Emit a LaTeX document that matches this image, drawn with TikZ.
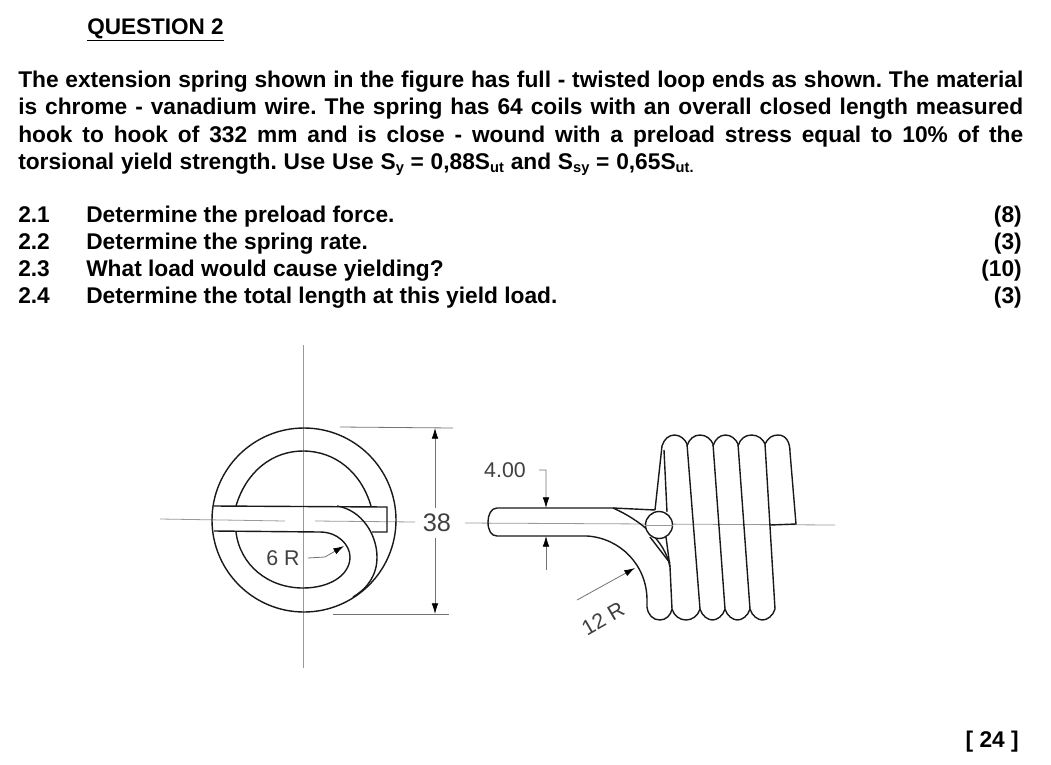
\documentclass[tikz,border=0pt]{standalone}
\usepackage{fontspec}
\setmainfont{Liberation Sans}
\usetikzlibrary{arrows.meta}
\tikzset{
    txt/.style={anchor=base west,inner sep=0pt,font=\fontsize{17.05}{20}\selectfont\bfseries},
    marks/.style={anchor=base east,inner sep=0pt,font=\fontsize{17.05}{20}\selectfont\bfseries},
    dimtxt/.style={inner sep=0pt,text=black!75,font=\fontsize{16}{18}\selectfont},
    wire/.style={draw=black!90,line width=1.05pt},
    centre/.style={draw=black!40,line width=0.6pt},
    dimline/.style={draw=black!55,line width=0.6pt},
    dimarrow/.style={dimline,-{Latex[black,length=8pt,width=5pt]}},
}
\newcommand{\bodyline}[1]{\makebox[753.75pt][s]{#1}}
\newcommand{\lowtxt}[1]{\raisebox{-2.6pt}{\fontsize{11}{10}\selectfont #1}}
\frenchspacing
\begin{document}
\begin{tikzpicture}[x=0.75pt,y=-0.75pt]
    \useasboundingbox (0,0) rectangle (1051,765);
    % text
    \node[txt,font=\fontsize{16.9}{20}\selectfont\bfseries] (title) at (87,34) {\underline{QUESTION 2}};
    \node[txt] (lineA) at (18,87) {\bodyline{The extension spring shown in the figure has full - twisted loop ends as shown. The material}};
    \node[txt] (lineB) at (18,114) {\bodyline{is chrome - vanadium wire. The spring has 64 coils with an overall closed length measured}};
    \node[txt] (lineC) at (18,142) {\bodyline{hook to hook of 332 mm and is close - wound with a preload stress equal to 10\% of the}};
    \node[txt] (lineD) at (18,169) {\makebox[506.5pt][s]{torsional yield strength. Use Use S\lowtxt{y} = 0,88S\lowtxt{ut} and S\lowtxt{sy} = 0,65S\lowtxt{ut.}}};
    \foreach \yy/\num/\what/\pts [count=\i] in {222/2.1/Determine the preload force./(8),
        249/2.2/Determine the spring rate./(3),
        276/2.3/What load would cause yielding?/(10),
        303/2.4/Determine the total length at this yield load./(3)} {
        \node[txt] (num\i) at (18,\yy) {\num};
        \node[txt] (item\i) at (86,\yy) {\what};
        \node[marks] (pts\i) at (1022,\yy) {\pts};
    }
    \node[marks] (total) at (1019,747) {[ 24 ]};

    % end view
    \draw[centre] (303,345) -- (303,668);
    \draw[centre] (160,519) -- (285,521);
    \draw[centre] (315,521) -- (415,522);
    \draw[wire] (304,520) circle[radius=92];
    \draw[wire] (236,506) .. controls (246,472) and (272,451) .. (303,451)
        .. controls (335,451) and (361,472) .. (371,506);
    \draw[wire] (214,506) -- (387,507) -- (387,532) -- (372,532);
    \draw[wire] (214,531) -- (320,532) .. controls (338,532) and (350,545) .. (350,557)
        .. controls (350,575) and (330,588) .. (303,588)
        .. controls (268,588) and (240,565) .. (236,532);
    \draw[wire] (337,506) .. controls (362,510) and (377,535) .. (377,557)
        .. controls (377,575) and (368,588) .. (353,597);

    % 38
    \draw[dimline] (340,427) -- (453,428);
    \draw[dimline] (333,614) -- (449,614);
    \coordinate (dimTop) at (435,428);
    \coordinate (dimBot) at (435,614);
    \node[dimtxt,font=\fontsize{19}{20}\selectfont] (dim38) at (437,523) {38};
    \draw[dimarrow] (dim38.north -| dimTop) ++(0,-6) -- (dimTop);
    \draw[dimarrow] (dim38.south -| dimBot) ++(0,6) -- (dimBot);

    % 6 R
    \node[dimtxt] (rSmall) at (283,558) {6 R};
    \coordinate (rSmallTip) at (344,546);
    \draw[dimarrow] (rSmall.east) ++(8,0) -- ++(17,-1) -- (rSmallTip);

    % side view
    \draw[centre] (465,523) -- (835,525);
    \draw[wire] (655,510) -- (613,508) -- (497,508)
        .. controls (491,508) and (488,515) .. (488,522)
        .. controls (488,530) and (491,536) .. (497,536) -- (587,536)
        .. controls (620,538) and (647,565) .. (647,600) -- (647,607)
        .. controls (648,615) and (653,620) .. (660,620)
        .. controls (666,620) and (671,615) .. (672,609);
    \draw[wire] (613,508) .. controls (640,520) and (665,540) .. (670,567) -- (672,609);
    \foreach \xa/\xb [count=\i] in {672/700,700/725,725/750,750/775} {
        \draw[wire] (\xa,609) .. controls (\xa+2,616) and (\xa+8,620) .. ({(\xa+\xb)/2},620)
            .. controls (\xb-8,620) and (\xb-2,616) .. (\xb,609);
    }
    \foreach \xa/\xb in {687/700,713/725,738/750,765/775} {
        \draw[wire] (\xa,444) -- (\xb,609);
    }
    \foreach \xa/\xb in {662/687,687/713,713/738,738/765} {
        \draw[wire] (\xa,446) .. controls (\xa+2,439) and (\xa+7,435) .. ({(\xa+\xb)/2},435)
            .. controls (\xb-7,435) and (\xb-2,439) .. (\xb,444);
    }
    \draw[wire] (765,444) .. controls (768,438) and (772,435) .. (778,435)
        .. controls (786,435) and (790,442) .. (790,452) -- (796,524) -- (770,525);
    \draw[wire] (662,446) -- (655,510);
    \draw[wire] (664,450) -- (667,512);
    \draw[wire] (666,537) -- (670,567);
    \draw[wire] (650,537) -- (670,563);
    \draw[wire,fill=white] (659,525) circle[radius=13.5];
    \draw[centre] (645,525) -- (673,525);

    % 4.00
    \node[dimtxt] (dimWire) at (505,470) {4.00};
    \coordinate (wireTop) at (546,508);
    \coordinate (wireBot) at (546,536);
    \coordinate (wireEnd) at (546,570);
    \draw[dimarrow] (dimWire.east) ++(13,0) -- ++(7,0) -- (wireTop);
    \draw[dimarrow] (wireEnd) -- (wireBot);

    % 12 R
    \node[dimtxt,rotate=30] (rLarge) at (603,619) {12 R};
    \coordinate (rLargeEnd) at (577,600);
    \coordinate (rLargeTip) at (635,568);
    \draw[dimarrow] (rLargeEnd) -- (rLargeTip);
\end{tikzpicture}
\end{document}
